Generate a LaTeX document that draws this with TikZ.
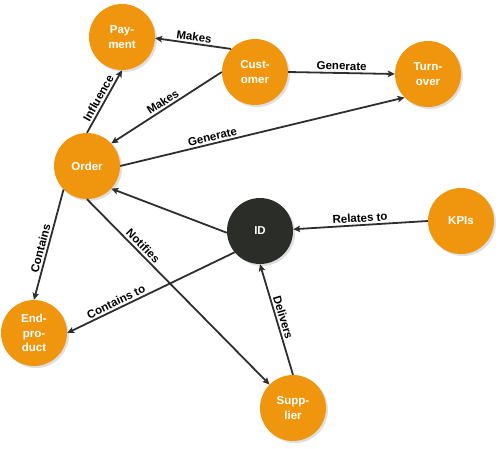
\documentclass[tikz,border=0pt]{standalone}
\usepackage{fontspec}
\setmainfont{Liberation Sans}
\usetikzlibrary{arrows.meta,shadows}
\definecolor{nodeorange}{HTML}{F0960E}
\definecolor{iddark}{HTML}{2A2D28}
\definecolor{edgegray}{HTML}{2E2E2E}
\tikzset{
  ent/.style={circle, fill=nodeorange, minimum size=66pt, inner sep=0pt, align=center,
    text=white, font=\fontsize{11.5}{14.5}\selectfont\bfseries,
    drop shadow={opacity=0.25, shadow xshift=2pt, shadow yshift=-2pt}},
  hub/.style={ent, fill=iddark},
  edge/.style={draw=edgegray, line width=1.8pt, -{Stealth[length=7pt,width=6.5pt,inset=1.5pt]}},
  lbl/.style={font=\fontsize{11.5}{13}\selectfont\bfseries, text=black, sloped, above, inner sep=2pt}
}
\begin{document}
\begin{tikzpicture}[x=1pt,y=-1pt]
\useasboundingbox (0,0) rectangle (500,448);
\node[ent] (pay) at (122,37) {Pay-\\ment};
\node[ent] (cust) at (255,72) {Cust-\\omer};
\node[ent] (turn) at (428,74) {Turn-\\over};
\node[ent] (order) at (87,166) {Order};
\node[hub] (id) at (260,231) {ID};
\node[ent] (kpi) at (461,221) {KPIs};
\node[ent] (end) at (34,333) {End-\\pro-\\duct};
\node[ent] (sup) at (293,408) {Supp-\\lier};

\draw[edge] (cust.136) -- node[lbl] {Makes} (pay.-2);
\draw[edge] (cust.west) -- node[lbl, pos=0.5] {Makes} (order.43);
\draw[edge] (cust.east) -- node[lbl] {Generate} (turn.west);
\draw[edge] (order.east) -- node[lbl, pos=0.33] {Generate} (turn.225);
\draw[edge] (order.north) -- node[lbl] {Influence} (pay.south);
\draw[edge] (order.225) -- node[lbl, pos=0.55] {Contains} (end.north);
\draw[edge] (order.south) -- node[lbl, pos=0.28] {Notifies} (sup.135);
\draw[edge] (id.183) -- (order.-43);
\draw[edge] (id.220) -- node[lbl, pos=0.69] {Contains to} (end.east);
\draw[edge] (kpi.west) -- node[lbl] {Relates to} (id.3);
\draw[edge] (sup.north) -- node[lbl] {Delivers} (id.south);
\end{tikzpicture}
\end{document}
